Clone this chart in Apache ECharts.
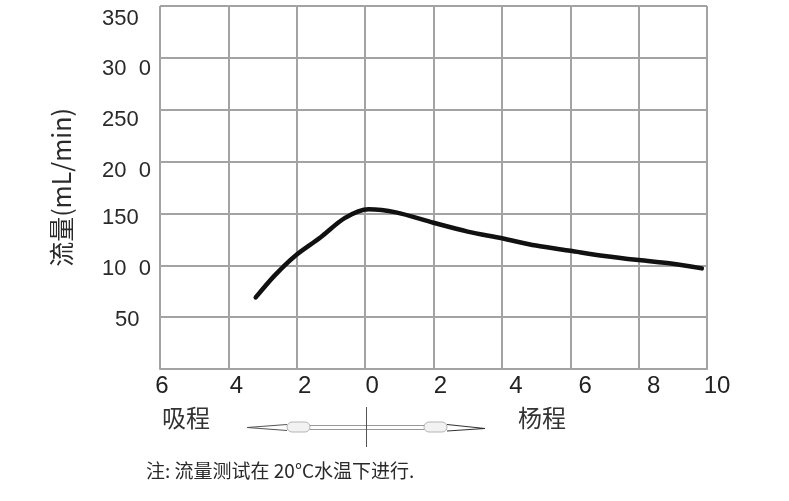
<!DOCTYPE html>
<html>
<head>
<meta charset="utf-8">
<script src="https://cdn.jsdelivr.net/npm/echarts@6/dist/echarts.min.js"></script>
<style>
html,body{margin:0;padding:0;background:#fff;}
#c{width:789px;height:501px;}
</style>
</head>
<body>
<div id="c"></div>
<script>
// Stroke (x, negative = suction side) and flow (mL/min)
var strokeX = [-3.2, -2.65, -2.05, -1.3, -0.6, 0.1, 0.9, 2.0, 3.0, 4.0, 5.0, 6.0, 7.0, 8.0, 9.0, 9.85];
var flowY   = [69, 90, 109, 127, 145.5, 154, 151, 141, 132.5, 126, 119, 114, 109, 105, 101.5, 97];
var xTickLabels = ['6', '4', '2', '0', '2', '4', '6', '8', '10'];
var yTickLabels = ['', '50', '10  0', '150', '20  0', '250', '30  0', '350'];
var yTitle = '流量(mL/min)';
var leftLabel = '吸程';
var rightLabel = '杨程';
var noteText = '注: 流量测试在 20°C水温下进行.';

// layout-only: small per-label nudges seen in the original print
var xLabelShift = [2, 8, 8, 7, 7, 14, 15, 15, 10];            // px to the right
var yLabelShift = [0, 2.5, 4, 4.5, 9.5, 10, 11.5, 12.5];        // px downward
var yLabelIndent = [0, 13, 0, 0, 0, 0, 0, 0];                   // px to the right

var FONT = "'Liberation Sans', Arial, 'Noto Sans CJK SC', sans-serif";
var CJK = "'Noto Sans CJK SC', 'Liberation Sans', sans-serif";
var gridColor = '#a3a3a3';

var xRich = {}, yRich = {};
xLabelShift.forEach(function (s, i) {
  xRich['x' + i] = {color: '#222', fontSize: 24, fontFamily: FONT, padding: [0, 0, 0, 2 * s]};
});
yLabelShift.forEach(function (s, i) {
  yRich['y' + i] = {color: '#2a2a2a', fontSize: 22, lineHeight: 22, fontFamily: FONT, padding: [0, 0, 0, yLabelIndent[i]]};
  yRich['s' + i] = {fontSize: 1, lineHeight: Math.max(1, 2 * s), height: Math.max(1, 2 * s)};
});

var chart = echarts.init(document.getElementById('c'), null, {renderer: 'canvas'});
var pts = strokeX.map(function (x, i) { return [x, flowY[i]]; });

chart.setOption({
  animation: false,
  backgroundColor: '#fff',
  grid: {left: 160, top: 6, right: 82, bottom: 132, containLabel: false, outerBoundsMode: 'none'},
  xAxis: {
    type: 'value', min: -6, max: 10, interval: 2,
    axisLine: {show: true, lineStyle: {color: gridColor, width: 2}},
    axisTick: {show: false},
    splitLine: {show: true, lineStyle: {color: gridColor, width: 2}},
    axisLabel: {
      color: '#222', fontSize: 24, fontFamily: FONT, margin: 5,
      formatter: function (v) {
        var i = Math.round((v + 6) / 2);
        return '{x' + i + '|' + xTickLabels[i] + '}';
      },
      rich: xRich
    }
  },
  yAxis: {
    type: 'value', min: 0, max: 350, interval: 50,
    name: yTitle, nameLocation: 'middle', nameRotate: 90, nameGap: 99,
    nameTextStyle: {color: '#2a2a2a', fontSize: 25, fontFamily: CJK, verticalAlign: 'middle', align: 'center'},
    axisLine: {show: true, lineStyle: {color: gridColor, width: 2}},
    axisTick: {show: false},
    splitLine: {show: true, lineStyle: {color: gridColor, width: 2}},
    axisLabel: {
      color: '#2a2a2a', fontSize: 22, fontFamily: FONT, margin: 58, align: 'left',
      formatter: function (v) {
        var i = Math.round(v / 50);
        if (!yTickLabels[i]) return '';
        var t = '{y' + i + '|' + yTickLabels[i] + '}';
        return yLabelShift[i] > 0.5 ? '{s' + i + '| }\n' + t : t;
      },
      rich: yRich
    }
  },
  series: [{
    type: 'line', data: pts, smooth: 0.3, symbol: 'none',
    lineStyle: {color: '#111', width: 4.5, cap: 'round'}
  }],
  graphic: [
    {type: 'text', left: 162, top: 406, style: {text: leftLabel, font: '24px ' + CJK, fill: '#333'}},
    {type: 'text', left: 518, top: 406, style: {text: rightLabel, font: '24px ' + CJK, fill: '#333'}},
    {type: 'text', left: 146, top: 461, style: {text: noteText, font: '19px ' + CJK, fill: '#2a2a2a'}},
    // double arrow decoration
    {type: 'line', shape: {x1: 287, y1: 425.5, x2: 447, y2: 425.5}, style: {stroke: '#999', lineWidth: 1}},
    {type: 'line', shape: {x1: 287, y1: 429.5, x2: 447, y2: 429.5}, style: {stroke: '#999', lineWidth: 1}},
    {type: 'polyline', shape: {points: [[287, 424.5], [247, 427.5], [287, 430.5]]}, style: {stroke: '#555', lineWidth: 1.2, fill: null}},
    {type: 'polyline', shape: {points: [[447, 424.5], [485, 428.5], [447, 431]]}, style: {stroke: '#333', lineWidth: 1.2, fill: null}},
    {type: 'rect', shape: {x: 287, y: 422, width: 23, height: 10, r: 5}, style: {fill: '#f2f2f2', stroke: '#b5b5b5', lineWidth: 1}},
    {type: 'rect', shape: {x: 424, y: 422, width: 23, height: 10, r: 5}, style: {fill: '#f2f2f2', stroke: '#b5b5b5', lineWidth: 1}},
    {type: 'line', shape: {x1: 366.5, y1: 407, x2: 366.5, y2: 447}, style: {stroke: '#555', lineWidth: 1}}
  ]
});
</script>
</body>
</html>
